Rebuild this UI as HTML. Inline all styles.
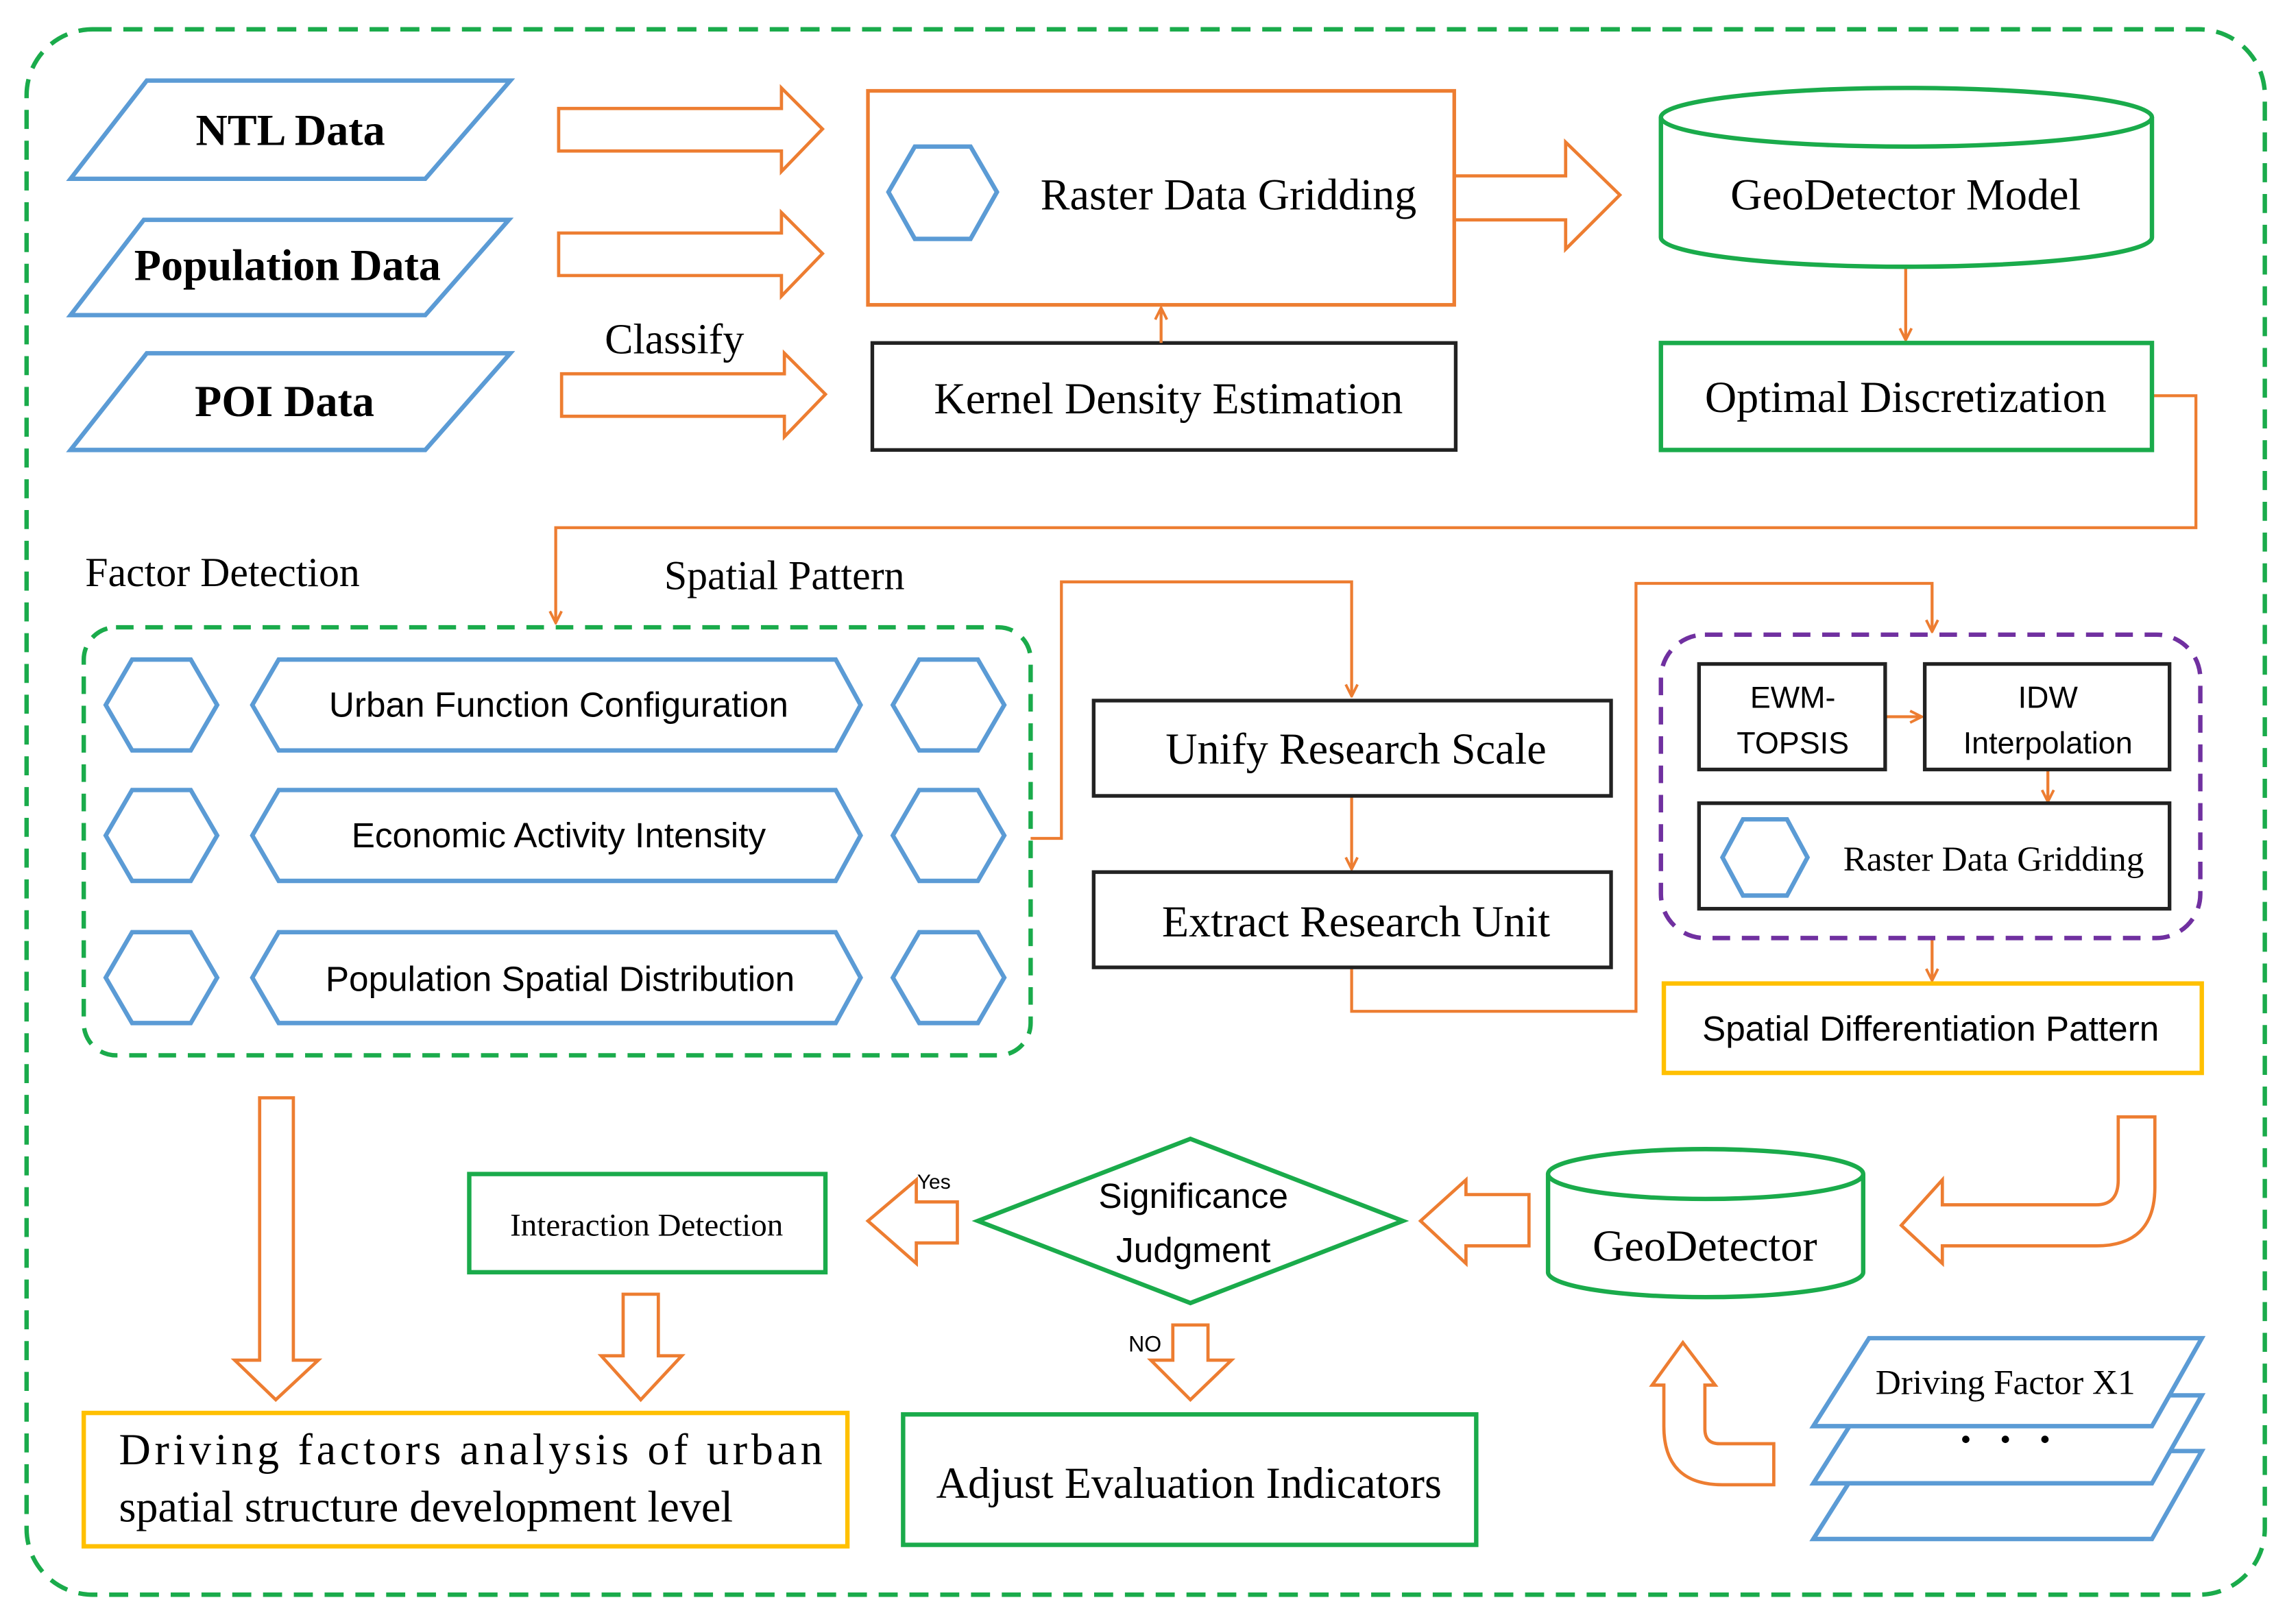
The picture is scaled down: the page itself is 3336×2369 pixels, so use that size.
<!DOCTYPE html>
<html><head><meta charset="utf-8"><style>
html,body{margin:0;padding:0;background:#fff}
svg{display:block}
.serif{font-family:"Liberation Serif",serif}
.sans{font-family:"Liberation Sans",sans-serif}
</style></head><body>
<svg width="3336" height="2369" viewBox="0 0 1560 1108" xmlns="http://www.w3.org/2000/svg">
<defs>
<marker id="ah" markerWidth="10" markerHeight="10" refX="9" refY="5" orient="auto" markerUnits="userSpaceOnUse"><path d="M1,1 L9,5 L1,9" fill="none" stroke="#ed7d31" stroke-width="1.8"/></marker>
</defs>
<rect width="1560" height="1108" fill="#fff"/>
<rect x="18" y="20" width="1527" height="1068" rx="45" fill="none" stroke="#1aab4b" stroke-width="3" stroke-dasharray="13 8"/>

<g fill="#fff" stroke="#5b9bd5" stroke-width="3">
<polygon points="48,122 100,55 348,55 290,122"/>
<polygon points="48,215 98,150 347,150 290,215"/>
<polygon points="48,307 100,241 348,241 290,307"/>
</g>
<g class="serif" font-weight="bold" font-size="30" text-anchor="middle" fill="#000">
<text x="198" y="99">NTL  Data</text>
<text x="196" y="191">Population Data</text>
<text x="194" y="284">POI  Data</text>
</g>

<g fill="none" stroke="#ed7d31" stroke-width="2.2">
<polygon points="381,74 533,74 533,60 561,88 533,117 533,103 381,103"/>
<polygon points="381,159 533,159 533,145 561,173 533,202 533,188 381,188"/>
<polygon points="383,255 535,255 535,241 563,269 535,298 535,284 383,284"/>
<polygon points="992,120 1068,120 1068,97 1105,133 1068,170 1068,150 992,150"/>
<path d="M1445,762 L1470,762 L1470,810 Q1470,850 1430,850 L1325,850 L1325,862 L1297,836 L1325,805 L1325,822 L1430,822 Q1445,822 1445,805 Z"/>
<polygon points="1043,815 1000,815 1000,805 969,833 1000,862 1000,850 1043,850"/>
<polygon points="653,820 625,820 625,805 592,833 625,862 625,848 653,848"/>
<polygon points="425,883 449,883 449,925 465,925 437,955 410,925 425,925"/>
<polygon points="800,904 824,904 824,928 840,928 812,955 785,928 800,928"/>
<polygon points="177,749 200,749 200,928 217,928 188,955 160,928 177,928"/>
<path d="M1148,916 L1170,945 L1163,945 L1163,975 Q1163,985 1173,985 L1210,985 L1210,1013 L1175,1013 Q1135,1013 1135,973 L1135,945 L1127,945 Z"/>
</g>
<text x="460" y="241" class="serif" font-size="29" text-anchor="middle">Classify</text>

<rect x="592" y="62" width="400" height="146" fill="none" stroke="#ed7d31" stroke-width="2.5"/>
<polygon points="606,131 624,100 662,100 680,131 662,163 624,163" fill="#fff" stroke="#5b9bd5" stroke-width="3"/>
<text x="838" y="143" class="serif" font-size="30" text-anchor="middle">Raster Data Gridding</text>
<rect x="595" y="234" width="398" height="73" fill="#fff" stroke="#222" stroke-width="2.5"/>
<text x="797" y="282" class="serif" font-size="30" text-anchor="middle">Kernel Density Estimation</text>

<g fill="none" stroke="#ed7d31" stroke-width="2">
<line x1="792" y1="234" x2="792" y2="210" marker-end="url(#ah)"/>
<line x1="1300" y1="182" x2="1300" y2="232" marker-end="url(#ah)"/>
<polyline points="1468,270 1498,270 1498,360 379,360 379,425" marker-end="url(#ah)"/>
<polyline points="703,572 724,572 724,397 922,397 922,475" marker-end="url(#ah)"/>
<line x1="922" y1="543" x2="922" y2="593" marker-end="url(#ah)"/>
<polyline points="922,660 922,690 1116,690 1116,398 1318,398 1318,431" marker-end="url(#ah)"/>
<line x1="1286" y1="489" x2="1311" y2="489" marker-end="url(#ah)"/>
<line x1="1397" y1="525" x2="1397" y2="547" marker-end="url(#ah)"/>
<line x1="1318" y1="640" x2="1318" y2="669" marker-end="url(#ah)"/>
</g>

<g fill="#fff" stroke="#1aab4b" stroke-width="3">
<path d="M1133,80 L1133,162 A167.5,20 0 0 0 1468,162 L1468,80"/>
<ellipse cx="1300.5" cy="80" rx="167.5" ry="20"/>
<path d="M1056,801 L1056,868 A107.5,17 0 0 0 1271,868 L1271,801"/>
<ellipse cx="1163.5" cy="801" rx="107.5" ry="17"/>
</g>
<text x="1300" y="143" class="serif" font-size="30" text-anchor="middle">GeoDetector Model</text>
<text x="1163" y="860" class="serif" font-size="30" text-anchor="middle">GeoDetector</text>
<rect x="1133" y="234" width="335" height="73" fill="#fff" stroke="#1aab4b" stroke-width="3"/>
<text x="1300" y="281" class="serif" font-size="30" text-anchor="middle">Optimal Discretization</text>

<text x="58" y="400" class="serif" font-size="28">Factor Detection</text>
<text x="453" y="402" class="serif" font-size="28">Spatial Pattern</text>
<rect x="57" y="428" width="646" height="292" rx="22" fill="none" stroke="#1aab4b" stroke-width="3" stroke-dasharray="12 8"/>

<g fill="#fff" stroke="#5b9bd5" stroke-width="3">
<polygon points="72,481 90,450 130,450 148,481 130,512 90,512"/>
<polygon points="172,481 190,450 570,450 587,481 570,512 190,512"/>
<polygon points="609,481 627,450 667,450 685,481 667,512 627,512"/>
<polygon points="72,570 90,539 130,539 148,570 130,601 90,601"/>
<polygon points="172,570 190,539 570,539 587,570 570,601 190,601"/>
<polygon points="609,570 627,539 667,539 685,570 667,601 627,601"/>
<polygon points="72,667 90,636 130,636 148,667 130,698 90,698"/>
<polygon points="172,667 190,636 570,636 587,667 570,698 190,698"/>
<polygon points="609,667 627,636 667,636 685,667 667,698 627,698"/>
</g>
<g class="sans" font-size="24" text-anchor="middle">
<text x="381" y="489">Urban Function Configuration</text>
<text x="381" y="578">Economic Activity Intensity</text>
<text x="382" y="676">Population Spatial Distribution</text>
</g>

<rect x="746" y="478" width="353" height="65" fill="#fff" stroke="#222" stroke-width="2.5"/>
<text x="925" y="521" class="serif" font-size="30" text-anchor="middle">Unify Research Scale</text>
<rect x="746" y="595" width="353" height="65" fill="#fff" stroke="#222" stroke-width="2.5"/>
<text x="925" y="639" class="serif" font-size="30" text-anchor="middle">Extract Research Unit</text>

<rect x="1133" y="433" width="368" height="207" rx="30" fill="none" stroke="#7030a0" stroke-width="3" stroke-dasharray="12 8"/>
<rect x="1159" y="453" width="127" height="72" fill="#fff" stroke="#222" stroke-width="2.5"/>
<rect x="1313" y="453" width="167" height="72" fill="#fff" stroke="#222" stroke-width="2.5"/>
<rect x="1159" y="548" width="321" height="72" fill="#fff" stroke="#222" stroke-width="2.5"/>
<g class="sans" font-size="21" text-anchor="middle">
<text x="1223" y="483">EWM-</text><text x="1223" y="514">TOPSIS</text>
<text x="1397" y="483">IDW</text><text x="1397" y="514">Interpolation</text>
</g>
<polygon points="1175,585 1189,559 1219,559 1233,585 1219,611 1189,611" fill="#fff" stroke="#5b9bd5" stroke-width="3"/>
<text x="1360" y="594" class="serif" font-size="24" text-anchor="middle">Raster Data Gridding</text>

<rect x="1135" y="671" width="367" height="61" fill="#fff" stroke="#ffc000" stroke-width="3"/>
<text x="1317" y="710" class="sans" font-size="24" text-anchor="middle">Spatial Differentiation Pattern</text>

<polygon points="667,833 812,777 957,833 812,889" fill="#fff" stroke="#1aab4b" stroke-width="3"/>
<text x="814" y="824" class="sans" font-size="24" text-anchor="middle">Significance</text>
<text x="814" y="861" class="sans" font-size="24" text-anchor="middle">Judgment</text>
<text x="637" y="811" class="sans" font-size="14" text-anchor="middle">Yes</text>
<text x="781" y="922" class="sans" font-size="15" text-anchor="middle">NO</text>

<rect x="320" y="801" width="243" height="67" fill="#fff" stroke="#1aab4b" stroke-width="3"/>
<text x="441" y="843" class="serif" font-size="22" text-anchor="middle">Interaction Detection</text>

<rect x="57" y="964" width="521" height="91" fill="#fff" stroke="#ffc000" stroke-width="3"/>
<text x="81" y="999" class="serif" font-size="30" textLength="480" lengthAdjust="spacing">Driving factors analysis of urban</text>
<text x="81" y="1038" class="serif" font-size="30">spatial structure development level</text>
<rect x="616" y="965" width="391" height="89" fill="#fff" stroke="#1aab4b" stroke-width="3"/>
<text x="811" y="1022" class="serif" font-size="30" text-anchor="middle">Adjust Evaluation Indicators</text>

<g fill="#fff" stroke="#5b9bd5" stroke-width="3">
<polygon points="1237,1050 1275,990 1502,990 1468,1050"/>
<polygon points="1237,1012 1275,952 1502,952 1468,1012"/>
<polygon points="1237,973 1275,913 1502,913 1468,973"/>
</g>
<text x="1368" y="951" class="serif" font-size="24" text-anchor="middle">Driving Factor X1</text>
<g fill="#000"><circle cx="1341" cy="982" r="2.5"/><circle cx="1368" cy="982" r="2.5"/><circle cx="1395" cy="982" r="2.5"/></g>
</svg>
</body></html>
